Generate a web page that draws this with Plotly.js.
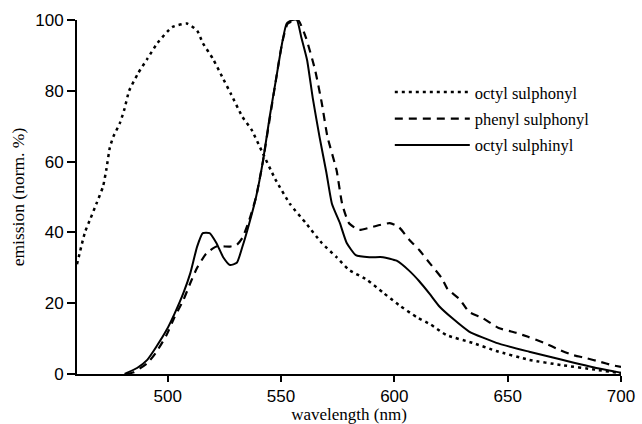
<!DOCTYPE html>
<html>
<head>
<meta charset="utf-8">
<script src="https://cdn.plot.ly/plotly-3.0.1.min.js"></script>
<style>html,body{margin:0;padding:0;background:#fff;}#chart{width:642px;height:424px;}</style>
</head>
<body>
<div id="chart"></div>
<script>
// octyl sulphonyl (dotted)
const octylSulphonylNm = [460, 463.5, 466, 468.5, 471.5, 473, 474.5, 476, 479, 481, 483, 487, 491, 495.5, 502, 508.5, 513, 515.5, 520, 524, 528, 533, 537, 541.5, 547.5, 554, 561, 568, 574.5, 580, 588, 595, 602, 610, 616, 623, 634.5, 645, 659.5, 674, 689, 698, 700];
const octylSulphonylVal = [31, 40, 44, 48, 53, 58, 64, 67, 71, 75, 80, 85, 89, 93.5, 98, 99, 97, 93.5, 89, 84, 79, 72.6, 69, 63, 55, 48, 42.6, 37, 33, 29.4, 26.6, 23, 19.5, 16, 14, 11, 8.8, 6.5, 4, 2.5, 1.2, 0.4, 0.3];

// phenyl sulphonyl (dashed)
const phenylSulphonylNm = [482, 485, 491, 495, 499.5, 503, 507, 510, 513, 517, 521.5, 527.5, 530.5, 533, 536, 539, 542, 545, 548, 550.5, 553, 557.5, 561, 565, 568, 570.5, 574.5, 577, 580, 584.5, 590, 598, 602, 606.5, 611, 615.5, 621, 623.5, 629, 633, 639, 646, 654, 659, 666, 673, 678.5, 684.5, 691, 696, 700];
const phenylSulphonylVal = [0, 0.5, 3, 6.2, 11, 16, 21, 25.7, 30, 34, 36, 36, 36.5, 38.5, 43.5, 50, 60, 72, 84, 93.5, 99, 100, 95, 86, 76.5, 67, 57.6, 48, 42.6, 40.7, 41.5, 42.6, 41.5, 38, 35, 31.4, 27, 24, 21, 17.5, 15.8, 13, 11.6, 10.5, 8.8, 6.8, 5.4, 4.5, 3.4, 2.5, 2];

// octyl sulphinyl (solid)
const octylSulphinylNm = [481, 482, 486.5, 491, 495, 499.5, 503, 507, 510, 513, 515.5, 518.5, 521.5, 524.5, 527.5, 530.5, 533, 536, 539, 542, 545, 548, 550.5, 552.5, 555, 557, 559, 561.5, 564, 567, 570, 572.5, 576, 579, 583, 589, 595, 601, 606.5, 611, 615.5, 620, 625.5, 633, 645, 659.5, 674, 689, 698, 700];
const octylSulphinylVal = [0, 0.3, 1.7, 4, 7.7, 12.4, 17, 23, 28.5, 36, 39.8, 39.8, 37, 33, 30.8, 31.4, 36, 42.6, 50, 60, 72.6, 84, 93.5, 99, 100, 100, 95, 88.7, 78, 67, 57, 48, 42.6, 37, 33.6, 33, 33, 32, 29.2, 26.2, 22.7, 19, 15.8, 12, 8.8, 6.3, 4, 1.7, 0.6, 0.3];

const seriesNames = ["octyl sulphonyl", "phenyl sulphonyl", "octyl sulphinyl"];
const xTicks = [500, 550, 600, 650, 700];
const yTicks = [0, 20, 40, 60, 80, 100];

const serif = "Liberation Serif, Times New Roman, serif";
const sans = "Liberation Sans, Arial, sans-serif";

const traces = [
  {x: octylSulphonylNm, y: octylSulphonylVal, name: seriesNames[0], legendgroup: "a",
   mode: "lines", line: {color: "#000", width: 2.5, dash: "3px,4px", shape: "spline", smoothing: 0.5}},
  {x: phenylSulphonylNm, y: phenylSulphonylVal, name: seriesNames[1], legendgroup: "b",
   mode: "lines", line: {color: "#000", width: 2.2, dash: "8px,6px", shape: "spline", smoothing: 0.5}},
  {x: octylSulphinylNm, y: octylSulphinylVal, name: seriesNames[2], legendgroup: "c",
   mode: "lines", line: {color: "#000", width: 2, shape: "spline", smoothing: 0.5}}
];

const layout = {
  width: 642, height: 424,
  margin: {l: 77, r: 21, t: 20, b: 50},
  paper_bgcolor: "#fff", plot_bgcolor: "#fff",
  showlegend: true,
  legend: {x: 0.575, y: 0.845, xanchor: "left", yanchor: "top", bgcolor: "rgba(0,0,0,0)",
           font: {family: serif, size: 16.5, color: "#000"}, tracegroupgap: 2, itemwidth: 75},
  xaxis: {range: [460, 700], tickvals: xTicks, ticktext: xTicks.map(String),
          showgrid: false, zeroline: false, showline: true, linecolor: "#000", linewidth: 2,
          ticks: "outside", ticklen: 6, tickwidth: 2, tickcolor: "#000",
          tickfont: {family: sans, size: 17, color: "#000"},
          title: {text: "wavelength (nm)", font: {family: serif, size: 17, color: "#000"}, standoff: 6}},
  yaxis: {range: [0, 100], tickvals: yTicks, ticktext: yTicks.map(String),
          showgrid: false, zeroline: false, showline: true, linecolor: "#000", linewidth: 2,
          ticks: "outside", ticklen: 8, tickwidth: 2, tickcolor: "#000",
          tickfont: {family: sans, size: 17, color: "#000"},
          title: {text: "emission (norm. %)", font: {family: serif, size: 17.5, color: "#000"}, standoff: 6}}
};

Plotly.newPlot("chart", traces, layout, {staticPlot: true, displayModeBar: false});
</script>
</body>
</html>
